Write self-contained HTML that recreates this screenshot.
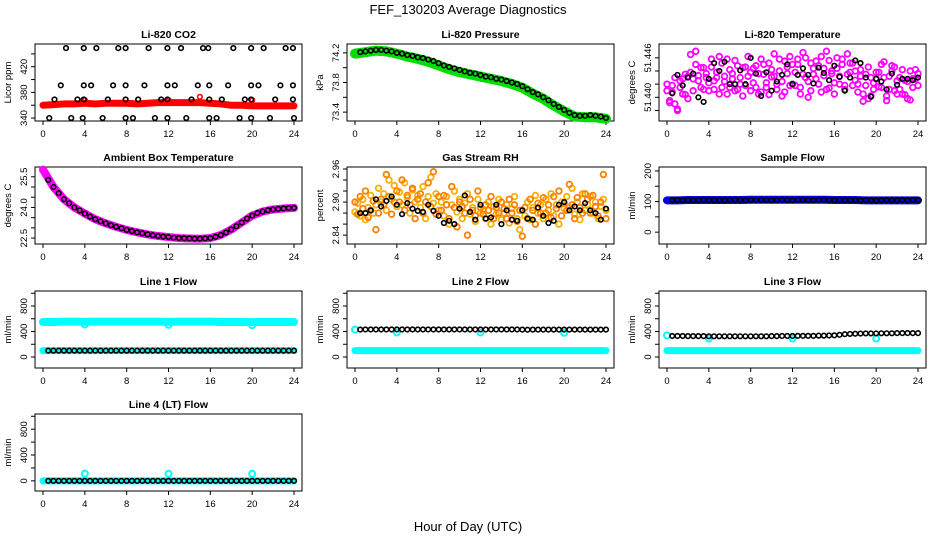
<!DOCTYPE html>
<html><head><meta charset="utf-8"><style>
html,body{margin:0;padding:0;background:#fff;}
svg{display:block;font-family:"Liberation Sans",sans-serif;}
</style></head><body>
<svg id="chart" width="936" height="540" viewBox="0 0 936 540" xmlns="http://www.w3.org/2000/svg">
<text x="468" y="14" text-anchor="middle" font-size="13">FEF_130203  Average Diagnostics</text>
<text x="468" y="531" text-anchor="middle" font-size="13">Hour of Day (UTC)</text>
</svg>
<script>
const hours25=[0,1,2,3,4,5,6,7,8,9,10,11,12,13,14,15,16,17,18,19,20,21,22,23,24];
const hours48=[0.5,1,1.5,2,2.5,3,3.5,4,4.5,5,5.5,6,6.5,7,7.5,8,8.5,9,9.5,10,10.5,11,11.5,12,12.5,13,13.5,14,14.5,15,15.5,16,16.5,17,17.5,18,18.5,19,19.5,20,20.5,21,21.5,22,22.5,23,23.5,24];
const hoursQ=[0,0.25,0.5,0.75,1,1.25,1.5,1.75,2,2.25,2.5,2.75,3,3.25,3.5,3.75,4,4.25,4.5,4.75,5,5.25,5.5,5.75,6,6.25,6.5,6.75,7,7.25,7.5,7.75,8,8.25,8.5,8.75,9,9.25,9.5,9.75,10,10.25,10.5,10.75,11,11.25,11.5,11.75,12,12.25,12.5,12.75,13,13.25,13.5,13.75,14,14.25,14.5,14.75,15,15.25,15.5,15.75,16,16.25,16.5,16.75,17,17.25,17.5,17.75,18,18.25,18.5,18.75,19,19.25,19.5,19.75,20,20.25,20.5,20.75,21,21.25,21.5,21.75,22,22.25,22.5,22.75,23,23.25,23.5,23.75,24];
const xTicks=[0,4,8,12,16,20,24];

const co2Red=[360,361,362,362,363,362,363,363,363,362,363,364,364,364,364,364,363,362,360,360,359,359,359,359,359];
const co2RedOutHours=[4,12,15,20];
const co2RedOut=[368,368,373,368];
const co2BlackHours=[2.2,3.9,5.1,7.2,7.9,10.1,11.9,13.2,15.3,15.8,18.2,19.9,21.1,23.2,23.9, 1.7,3.9,4.6,6.7,7.9,9.7,11.9,12.6,14.8,15.9,17.7,19.9,20.6,22.7,23.9, 1.1,3.3,3.9,6.2,7.9,9.1,11.3,11.9,14.2,15.9,17.1,19.3,19.9,22.2,23.9, 0.6,2.7,3.8,5.7,7.9,8.6,10.7,11.9,13.7,15.9,16.6,18.8,19.9,21.7,24];
const co2Black=[449,449,449,449,449,449,449,449,449,449,449,449,449,449,449, 391,391,391,391,391,391,391,391,391,391,391,391,391,391,391, 369,369,369,369,369,369,369,369,369,369,369,369,369,369,369, 340,340,340,340,340,340,340,340,340,340,340,340,340,340,340];

const presGreen=[74.19,74.21,74.23,74.22,74.19,74.15,74.12,74.08,74.03,73.98,73.94,73.91,73.88,73.85,73.82,73.78,73.73,73.65,73.58,73.49,73.41,73.34,73.33,73.33,73.31];
const presBlack=[74.21,74.22,74.23,74.24,74.24,74.23,74.22,74.2,74.19,74.17,74.16,74.14,74.13,74.11,74.09,74.06,74.03,74.01,73.99,73.97,73.95,73.93,73.92,73.9,73.88,73.87,73.85,73.84,73.82,73.8,73.78,73.75,73.71,73.67,73.64,73.6,73.56,73.51,73.47,73.43,73.39,73.36,73.35,73.35,73.36,73.35,73.34,73.32];

const tempMagA=[51.4410,51.4395,51.4418,51.4390,51.4382,51.4425,51.4405,51.4435,51.4398,
51.4465,51.4428,51.4450,51.4433,51.4415,51.4445,51.4430,51.4410,
51.4458,51.4425,51.4438,51.4462,51.4415,51.4432,51.4405,51.4442,
51.4436,51.4456,51.4412,51.4430,51.4445,51.4418,51.4462,51.4438,
51.4422,51.4448,51.4405,51.4458,51.4435,51.4415,51.4452,51.4431,
51.4466,51.4420,51.4440,51.4402,51.4455,51.4436,51.4418,51.4450,
51.4438,51.4458,51.4415,51.4468,51.4430,51.4400,51.4452,51.4435,
51.4455,51.4420,51.4462,51.4433,51.4412,51.4456,51.4440,51.4422,
51.4460,51.4432,51.4450,51.4418,51.4466,51.4438,51.4452,51.4426,
51.4420,51.4442,51.4405,51.4435,51.4398,51.4430,51.4412,51.4428,
51.4438,51.4415,51.4454,51.4402,51.4432,51.4448,51.4410,51.4425,
51.4430,51.4405,51.4426,51.4398,51.4440,51.4415,51.4428,51.4436];
const tempMagB=[51.4420,51.4392,51.4408,51.4430,51.4380,51.4415,51.4428,51.4404,51.4432,
51.4438,51.4410,51.4470,51.4425,51.4445,51.4412,51.4436,51.4422,
51.4446,51.4412,51.4430,51.4405,51.4452,51.4424,51.4458,51.4415,
51.4428,51.4410,51.4448,51.4420,51.4402,51.4446,51.4432,51.4410,
51.4444,51.4415,51.4436,51.4408,51.4450,51.4422,51.4404,51.4442,
51.4432,51.4412,51.4458,51.4424,51.4408,51.4446,51.4462,51.4420,
51.4418,51.4450,51.4405,51.4435,51.4460,51.4424,51.4410,51.4444,
51.4428,51.4448,51.4408,51.4444,51.4470,51.4414,51.4436,51.4405,
51.4444,51.4420,51.4458,51.4412,51.4435,51.4452,51.4418,51.4440,
51.4408,51.4432,51.4394,51.4418,51.4446,51.4402,51.4422,51.4438,
51.4416,51.4450,51.4430,51.4395,51.4412,51.4440,51.4446,51.4405,
51.4412,51.4442,51.4404,51.4424,51.4396,51.4428,51.4442,51.4418];
const tempBlack=[51.4406,51.4434,51.4418,51.4430,51.4436,51.4400,51.4393,51.4428,51.4452,51.4440,51.4454,51.4420,
51.4420,51.4441,51.4420,51.4460,51.4436,51.4402,51.4438,51.4410,51.4424,51.4434,51.4450,51.4420,
51.4434,51.4444,51.4434,51.4421,51.4445,51.4437,51.4426,51.4448,51.4431,51.4410,51.4430,51.4456,
51.4452,51.4430,51.4401,51.4428,51.4424,51.4412,51.4436,51.4419,51.4428,51.4428,51.4426,51.4430];

const ambMag=[25.85,25.0,24.4,24.0,23.7,23.42,23.22,23.05,22.9,22.78,22.68,22.6,22.55,22.5,22.48,22.47,22.5,22.65,22.92,23.26,23.6,23.8,23.9,23.95,23.98];
const ambBlack=[25.35,25.0,24.7,24.4,24.2,24.0,23.85,23.7,23.55,23.42,23.32,23.22,23.13,23.05,22.98,22.9,22.84,22.78,22.73,22.68,22.64,22.6,22.57,22.55,22.52,22.5,22.49,22.48,22.47,22.47,22.48,22.5,22.56,22.65,22.77,22.92,23.08,23.26,23.45,23.6,23.72,23.8,23.86,23.9,23.93,23.95,23.97,23.98];

const rhA=[2.882,2.898,2.875,2.905,2.868,2.890,2.912,2.880,2.895,
2.925,2.900,2.915,2.885,2.940,2.905,2.930,2.892,
2.918,2.895,2.935,2.908,2.880,2.922,2.900,2.912,
2.890,2.928,2.870,2.910,2.945,2.898,2.915,2.885,
2.900,2.875,2.910,2.860,2.895,2.920,2.882,2.905,
2.870,2.898,2.915,2.878,2.890,2.865,2.905,2.880,
2.885,2.870,2.900,2.860,2.892,2.878,2.905,2.868,
2.880,2.895,2.862,2.888,2.910,2.870,2.850,2.885,
2.875,2.900,2.868,2.890,2.912,2.880,2.895,2.870,
2.905,2.885,2.915,2.875,2.895,2.860,2.900,2.888,
2.910,2.890,2.925,2.878,2.900,2.868,2.915,2.885,
2.895,2.910,2.880,2.900,2.870,2.892,2.905,2.885];
const rhB=[2.900,2.878,2.910,2.888,2.920,2.872,2.885,2.902,2.850,
2.880,2.905,2.895,2.950,2.910,2.878,2.900,2.920,
2.900,2.940,2.885,2.912,2.895,2.925,2.870,2.905,
2.915,2.880,2.900,2.935,2.892,2.955,2.878,2.910,
2.885,2.912,2.895,2.870,2.928,2.890,2.855,2.900,
2.892,2.880,2.840,2.905,2.885,2.875,2.920,2.890,
2.878,2.895,2.885,2.910,2.870,2.890,2.880,2.900,
2.888,2.870,2.905,2.880,2.895,2.865,2.885,2.838,
2.890,2.870,2.905,2.885,2.860,2.898,2.880,2.908,
2.880,2.895,2.872,2.910,2.888,2.920,2.875,2.898,
2.885,2.932,2.895,2.870,2.908,2.890,2.880,2.915,
2.905,2.880,2.912,2.892,2.875,2.900,2.950,2.870];
const rhBlack=[2.880,2.880,2.885,2.905,2.892,2.902,2.910,2.895,2.878,2.898,2.888,2.884,2.882,2.895,2.884,2.875,2.862,2.866,2.860,2.888,2.912,2.882,2.868,2.895,2.870,2.872,2.895,2.860,2.885,2.868,2.866,2.885,2.870,2.868,2.890,2.875,2.862,2.866,2.895,2.900,2.885,2.892,2.885,2.898,2.885,2.880,2.868,2.888];

const flowBlue=[104,104,105,105,105,105,105,105,106,106,106,106,106,106,106,106,105,105,105,104,104,104,104,104,104];
const flowBlack=[104,105,104,105,104,105,106,105,104,105,104,105,106,105,104,105,105,106,105,104,105,106,105,104,106,105,105,104,105,106,105,104,106,105,104,105,104,105,104,103,104,105,104,104,105,104,105,105];

const l1CyanHi=[550,550,555,555,552,555,555,555,555,555,555,555,552,555,555,555,555,550,550,550,548,550,550,550,550];
const l1CyanOutHours=[4,12,20];
const l1CyanOut=[510,505,500];
const l1CyanLo=[100,100,100,100,100,100,100,100,100,100,100,100,100,100,100,100,100,100,100,100,100,100,100,100,100];
const l1Black=[100,100,100,100,100,100,100,100,100,100,100,100,100,100,100,100,100,100,100,100,100,100,100,100,100,100,100,100,100,100,100,100,100,100,100,100,100,100,100,100,100,100,100,100,100,100,100,100];

const l2CyanLo=[100,100,100,100,100,100,100,100,100,100,100,100,100,100,100,100,100,100,100,100,100,100,100,100,100];
const l2CyanOutHours=[0,4,12,20];
const l2CyanOut=[430,385,385,380];
const l2Black=[430,432,432,432,432,432,432,432,432,432,432,432,432,432,432,432,432,432,432,432,432,432,432,432,432,432,432,432,432,432,432,430,428,430,430,430,430,430,430,430,430,430,430,430,430,430,430,430];

const l3CyanLo=[100,100,100,100,100,100,100,100,100,100,100,100,100,100,100,100,100,100,100,100,100,100,100,100,100];
const l3CyanOutHours=[0,4,12,20];
const l3CyanOut=[340,290,290,290];
const l3Black=[330,330,330,328,328,328,328,325,325,325,325,325,325,325,325,325,325,325,325,328,328,330,330,330,332,332,332,332,335,335,338,340,348,358,362,365,368,370,370,370,372,372,372,375,375,375,375,375];

const l4CyanLo=[0,0,0,0,0,0,0,0,0,0,0,0,0,0,0,0,0,0,0,0,0,0,0,0,0];
const l4CyanOutHours=[4,12,20];
const l4CyanOut=[110,110,110];
const l4Black=[0,0,0,0,0,0,0,0,0,0,0,0,0,0,0,0,0,0,0,0,0,0,0,0,0,0,0,0,0,0,0,0,0,0,0,0,0,0,0,0,0,0,0,0,0,0,0,0];

const co2Ticks=[340,360,380,400,420,440];const co2Labels=["340","","380","","420",""];
const presTicks=[73.4,73.6,73.8,74.0,74.2];const presLabels=["73.4","","73.8","","74.2"];
const tempTicks=[51.438,51.440,51.442,51.444,51.446];const tempLabels=["","51.440","","","51.446"];
const ambTicks=[22.5,23.0,23.5,24.0,24.5,25.0,25.5];const ambLabels=["22.5","","","24.0","","","25.5"];
const rhTicks=[2.84,2.86,2.88,2.90,2.92,2.94,2.96];const rhLabels=["2.84","","","2.90","","","2.96"];
const flowTicks=[0,50,100,150,200];const flowLabels=["0","","100","","200"];
const lineTicks=[0,200,400,600,800,1000];const lineLabels=["0","","400","","800",""];

const NS="http://www.w3.org/2000/svg";
const svg=document.getElementById('chart');
function mk(tag,attrs,parent){const e=document.createElementNS(NS,tag);for(const k in attrs)e.setAttribute(k,attrs[k]);parent.appendChild(e);return e;}

function panel(name,col,row,title,ylabel,dom,ticks,labels){
  const L=35+col*312, T=[44,167,291,414][row], W=267, H=77;
  const g=mk('g',{},svg);
  
  
  const x=h=>L+8+h*(W-16)/24;
  const y=v=>T+H-(v-dom[0])/(dom[1]-dom[0])*H;
  const box=mk('rect',{x:L,y:T,width:W,height:H,fill:'none',stroke:'#000','stroke-width':1},g);
  
  
  const t=mk('text',{x:L+W/2,y:T-6,'text-anchor':'middle','font-size':10.5,'font-weight':'bold'},g);
  t.textContent=title;
  
  
  const yl=mk('text',{transform:`translate(${L-24},${T+H/2}) rotate(-90)`,'text-anchor':'middle','font-size':9.5},g);
  yl.textContent=ylabel;
  
  
  const xa=mk('g',{},g);
  
  
  mk('line',{x1:x(0),x2:x(24),y1:T+H,y2:T+H,stroke:'#000'},xa);
  xTicks.forEach(h=>{mk('line',{x1:x(h),x2:x(h),y1:T+H,y2:T+H+4,stroke:'#000'},xa);
    const tl=mk('text',{x:x(h),y:T+H+16,'text-anchor':'middle','font-size':9.5},xa);tl.textContent=h;});
  const ya=mk('g',{},g);
  
  
  mk('line',{x1:L,x2:L,y1:y(ticks[0]),y2:y(ticks[ticks.length-1]),stroke:'#000'},ya);
  ticks.forEach((v,i)=>{const yy=y(v);mk('line',{x1:L-4,x2:L,y1:yy,y2:yy,stroke:'#000'},ya);
    if(labels[i]){const tl=mk('text',{transform:`translate(${L-8},${yy}) rotate(-90)`,'text-anchor':'middle','font-size':9.5},ya);tl.textContent=labels[i];}});
  const cid='clip-'+name;
  const cp=mk('clipPath',{id:cid},g);mk('rect',{x:L,y:T-4,width:W,height:H+8},cp);
  const d=mk('g',{'clip-path':`url(#${cid})`},g);
  return {x,y,g:d,name};
}
function band(p,hs,vs,color,w,label){
  const pl=mk('polyline',{points:hs.map((h,i)=>p.x(h)+','+p.y(vs[i])).join(' '),fill:'none',stroke:color,'stroke-width':w,'stroke-linejoin':'round','stroke-linecap':'round'},p.g);
  
  
}
function pts(p,hs,vs,color,label,r,sw){
  const gg=mk('g',{},p.g);
  
  
  hs.forEach((h,i)=>{const c=mk('circle',{cx:p.x(h),cy:p.y(vs[i]),r:r||2.3,fill:'none',stroke:color,'stroke-width':sw||1.6},gg);
    
    });
}

let p=panel('co2',0,0,'Li-820 CO2','Licor ppm',[335.4,455.4],co2Ticks,co2Labels);
band(p,hours25,co2Red,'#ff0000',7,'red-series');
pts(p,co2RedOutHours,co2RedOut,'#ff0000','red-outliers');
pts(p,co2BlackHours,co2Black,'#000','black-series');

p=panel('pressure',1,0,'Li-820 Pressure','kPa',[73.28,74.32],presTicks,presLabels);
band(p,hours25,presGreen,'#00dd00',10,'green-series');
pts(p,hours48,presBlack,'#000','black-series');

p=panel('temperature',2,0,'Li-820 Temperature','degrees C',[51.4364,51.4481],tempTicks,tempLabels);
pts(p,hoursQ,tempMagA,'#ff00ff','magenta-series-a',2.8,1.8);
pts(p,hoursQ,tempMagB,'#ff00ff','magenta-series-b',2.8,1.8);
pts(p,hours48,tempBlack,'#000','black-series');

p=panel('ambient',0,1,'Ambient Box Temperature','degrees C',[22.21,25.98],ambTicks,ambLabels);
band(p,hours25,ambMag,'#ff00ff',8,'magenta-series');
pts(p,hours48,ambBlack,'#000','black-series');

p=panel('rh',1,1,'Gas Stream RH','percent',[2.8239,2.9636],rhTicks,rhLabels);
pts(p,hoursQ,rhA,'#f5b000','orange-series-a',2.8,1.8);
pts(p,hoursQ,rhB,'#ff8000','orange-series-b',2.8,1.8);
pts(p,hours48,rhBlack,'#000','black-series');

p=panel('sample-flow',2,1,'Sample Flow','ml/min',[-38.7,212.9],flowTicks,flowLabels);
band(p,hours25,flowBlue,'#0000ee',8,'blue-series');
pts(p,hours48,flowBlack,'#000','black-series');

p=panel('line1',0,2,'Line 1 Flow','ml/min',[-172,1035],lineTicks,lineLabels);
band(p,hours25,l1CyanHi,'#00ffff',8,'cyan-high-series');
pts(p,l1CyanOutHours,l1CyanOut,'#00ffff','cyan-outliers',3,2);
band(p,hours25,l1CyanLo,'#00ffff',7,'cyan-low-series');
pts(p,hours48,l1Black,'#000','black-series');

p=panel('line2',1,2,'Line 2 Flow','ml/min',[-172,1035],lineTicks,lineLabels);
band(p,hours25,l2CyanLo,'#00ffff',7,'cyan-series');
pts(p,l2CyanOutHours,l2CyanOut,'#00ffff','cyan-outliers',3,2);
pts(p,hours48,l2Black,'#000','black-series');

p=panel('line3',2,2,'Line 3 Flow','ml/min',[-172,1035],lineTicks,lineLabels);
band(p,hours25,l3CyanLo,'#00ffff',7,'cyan-series');
pts(p,l3CyanOutHours,l3CyanOut,'#00ffff','cyan-outliers',3,2);
pts(p,hours48,l3Black,'#000','black-series');

p=panel('line4',0,3,'Line 4 (LT) Flow','ml/min',[-157,1035],lineTicks,lineLabels);
band(p,hours25,l4CyanLo,'#00ffff',7,'cyan-series');
pts(p,l4CyanOutHours,l4CyanOut,'#00ffff','cyan-outliers',3,2);
pts(p,hours48,l4Black,'#000','black-series');
</script>
</body></html>
